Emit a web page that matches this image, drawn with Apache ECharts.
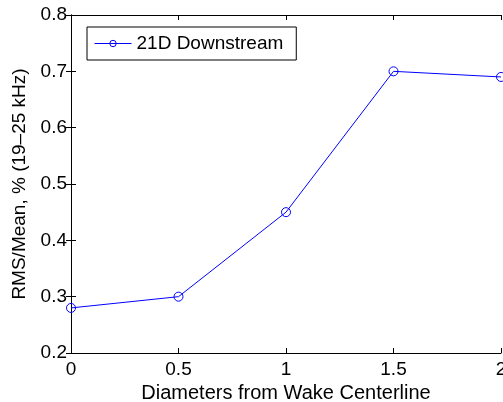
<!DOCTYPE html>
<html><head><meta charset="utf-8">
<script src="https://cdn.jsdelivr.net/npm/echarts@6/dist/echarts.min.js"></script>
<style>html,body{margin:0;padding:0;background:#fff}#c{width:503px;height:402px}</style>
</head><body><div id="c"></div>
<script>
const xValues = [0, 0.5, 1, 1.5, 2];
const yValues = [0.28, 0.30, 0.45, 0.70, 0.69];
const seriesName = '21D Downstream';
const xLabel = 'Diameters from Wake Centerline';
const yLabel = 'RMS/Mean, % (19–25 kHz)';

const font = '"Liberation Sans", Arial, Helvetica, sans-serif';
const chart = echarts.init(document.getElementById('c'), null, {renderer: 'canvas'});
const axisLine = {show: true, lineStyle: {color: '#000', width: 1}};
const tick = {show: true, inside: true, length: 5, lineStyle: {color: '#000'}};
chart.setOption({
  animation: false,
  grid: {left: 71, right: 2, top: 15, bottom: 49, containLabel: false, outerBoundsMode: 'none'},
  legend: {
    data: [{name: seriesName}],
    left: 87, top: 27,
    padding: [7, 13, 7, 7],
    borderColor: '#000', borderWidth: 1,
    itemWidth: 37, itemHeight: 8, itemGap: 5,
    lineStyle: {width: 1},
    itemStyle: {borderWidth: 1},
    textStyle: {fontFamily: font, fontSize: 19, color: '#000', padding: [0, 0, 0, 0]}
  },
  xAxis: [{
    type: 'value', min: 0, max: 2, interval: 0.5, position: 'bottom',
    axisLine, axisTick: tick, splitLine: {show: false},
    axisLabel: {color: '#000', fontSize: 19, fontFamily: font, margin: 7},
    name: xLabel, nameLocation: 'middle', nameGap: 27,
    nameTextStyle: {color: '#000', fontSize: 20, fontFamily: font}
  }, {
    type: 'value', min: 0, max: 2, interval: 0.5, position: 'top',
    axisLine, axisTick: tick, axisLabel: {show: false}, splitLine: {show: false}
  }],
  yAxis: [{
    type: 'value', min: 0.2, max: 0.8, interval: 0.1, position: 'left',
    axisLine, axisTick: tick, splitLine: {show: false},
    axisLabel: {color: '#000', fontSize: 19, fontFamily: font, margin: 4, formatter: v => v.toFixed(1)},
    name: yLabel, nameLocation: 'middle', nameGap: 37,
    nameTextStyle: {color: '#000', fontSize: 19, fontFamily: font}
  }, {
    type: 'value', min: 0.2, max: 0.8, interval: 0.1, position: 'right',
    axisLine, axisTick: tick, axisLabel: {show: false}, splitLine: {show: false}
  }],
  series: [{
    name: seriesName, type: 'line',
    data: xValues.map((x, i) => [x, yValues[i]]),
    symbol: 'circle', symbolSize: 9, showAllSymbol: true,
    lineStyle: {color: '#0000ff', width: 1},
    itemStyle: {color: 'rgba(255,255,255,0)', borderColor: '#0000ff', borderWidth: 1},
    clip: false
  }]
});
</script></body></html>
